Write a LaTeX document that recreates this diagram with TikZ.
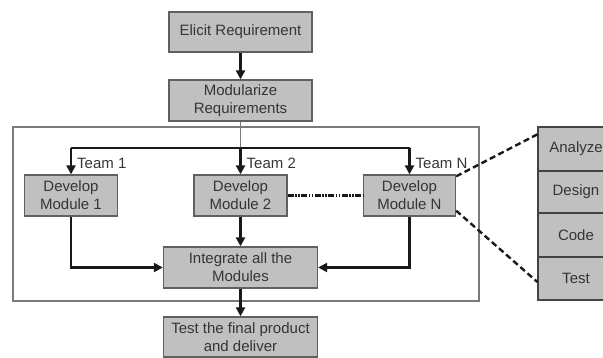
\documentclass[tikz,border=0pt]{standalone}
\usepackage{fontspec}
\setmainfont{Liberation Sans}
\usetikzlibrary{arrows.meta}
\definecolor{boxfill}{HTML}{C0C0C0}
\definecolor{boxline}{HTML}{606060}
\definecolor{txt}{HTML}{353535}
\definecolor{frameline}{HTML}{7A7A7A}
\tikzset{
  procbox/.style={draw=boxline, line width=1.3pt, fill=boxfill, text=txt, align=center,
    inner sep=0pt, font=\fontsize{15}{18}\selectfont},
  stackbox/.style={procbox, minimum width=76pt, draw=boxline!70!black},
  arr/.style={draw=black!90, line width=2.2pt, -{Triangle[length=9pt,width=9pt]}},
  thickline/.style={draw=black!90, line width=2.2pt},
  thinline/.style={draw=frameline, line width=1.1pt},
  teamlbl/.style={text=txt, font=\fontsize{15}{18}\selectfont, anchor=west, inner sep=0pt},
  zoomline/.style={draw=black!90, line width=2.4pt, dash pattern=on 6pt off 3.5pt},
  linkline/.style={draw=black!90, line width=2.2pt, dash pattern=on 6pt off 1.5pt on 1.5pt off 1.5pt on 1.5pt off 1.5pt}
}
\begin{document}
\begin{tikzpicture}[x=1pt,y=-1pt]
\useasboundingbox (0,0) rectangle (603,358);
% frame
\draw[thinline] (13,127) rectangle (479,301);
% main column
\node[procbox, minimum width=143pt, minimum height=40pt] (eli) at (240.5,32) {Elicit Requirement};
\node[procbox, minimum width=143pt, minimum height=41pt] (mod) at (240.5,100.5) {Modularize\\Requirements};
\node[procbox, minimum width=93pt, minimum height=41pt] (m1) at (71,195.5) {Develop\\Module 1};
\node[procbox, minimum width=93pt, minimum height=41pt] (m2) at (240.5,195.5) {Develop\\Module 2};
\node[procbox, minimum width=92pt, minimum height=41pt] (mn) at (409.5,195.5) {Develop\\Module N};
\node[procbox, minimum width=154pt, minimum height=41pt] (int) at (240.5,267.5) {Integrate all the\\Modules};
\node[procbox, minimum width=154pt, minimum height=40pt] (fin) at (240.5,337) {Test the final product\\and deliver};
% team branch
\coordinate (b1) at (71,148);
\coordinate (b2) at (240.5,148);
\coordinate (bn) at (409.5,148);
\draw[arr] (eli) -- (mod);
\draw[thinline] (mod.south) -- (b2);
\draw[thickline] (b1) -- (bn);
\draw[arr] (b1) -- (m1.north);
\draw[arr] (b2) -- (m2.north);
\draw[arr] (bn) -- (mn.north);
\node[teamlbl] (t1) at (77,163) {Team 1};
\node[teamlbl] (t2) at (246.5,163) {Team 2};
\node[teamlbl] (tn) at (415.5,163) {Team N};
% link between modules
\draw[linkline] (m2.east) -- (mn.west);
% integration
\draw[arr] (m1.south) |- (int.west);
\draw[arr] (mn.south) |- (int.east);
\draw[arr] (m2.south) -- (int.north);
\draw[arr] (int.south) -- (fin.north);
% stack on the right
\begin{scope}
\clip (0,0) rectangle (603,358);
\node[stackbox, minimum height=44pt] (an) at (576,149) {Analyze};
\node[stackbox, minimum height=42pt] (de) at (576,192) {Design};
\node[stackbox, minimum height=44pt] (co) at (576,235) {Code};
\node[stackbox, minimum height=43pt] (te) at (576,278.5) {Test};
\end{scope}
% zoom lines
\draw[zoomline] ([yshift=-2pt]mn.north east) -- ([yshift=-8pt]an.north west);
\draw[zoomline] ([yshift=6pt]mn.south east) -- ([yshift=-3.5pt]te.west);
\end{tikzpicture}
\end{document}
